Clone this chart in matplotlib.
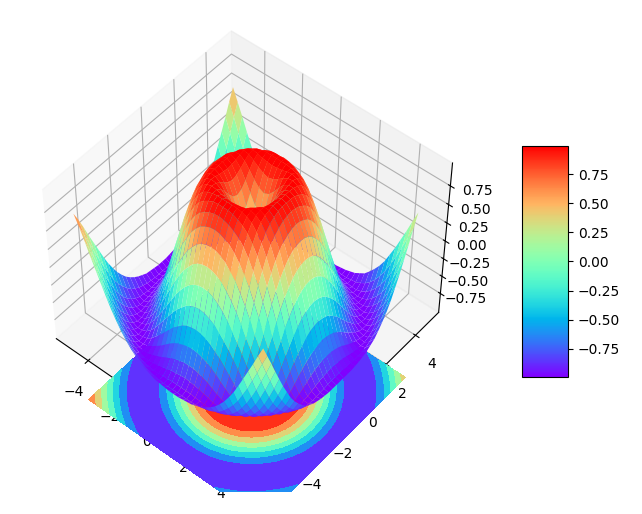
import matplotlib
matplotlib.use("Agg")
import matplotlib.pyplot as plt
import numpy as np

# surface height by grid steps from the centre: row = larger offset, column = smaller offset
height_rows = [
    [0.00],
    [0.25, 0.35],
    [0.48, 0.53, 0.65],
    [0.68, 0.71, 0.78, 0.87],
    [0.84, 0.86, 0.90, 0.95, 0.99],
    [0.95, 0.96, 0.97, 0.99, 1.00, 0.98],
    [1.00, 1.00, 1.00, 0.99, 0.97, 0.93, 0.85],
    [0.98, 0.98, 0.97, 0.94, 0.90, 0.84, 0.74, 0.62],
    [0.91, 0.90, 0.88, 0.84, 0.79, 0.71, 0.60, 0.46, 0.31],
    [0.78, 0.77, 0.74, 0.70, 0.63, 0.54, 0.42, 0.29, 0.13, -0.04],
    [0.60, 0.59, 0.56, 0.51, 0.43, 0.34, 0.22, 0.09, -0.06, -0.22, -0.38],
    [0.38, 0.37, 0.34, 0.29, 0.21, 0.12, 0.01, -0.12, -0.26, -0.40, -0.54, -0.68],
    [0.14, 0.13, 0.10, 0.05, -0.02, -0.11, -0.21, -0.33, -0.45, -0.57, -0.69, -0.80, -0.89],
    [-0.11, -0.12, -0.15, -0.19, -0.26, -0.33, -0.42, -0.52, -0.62, -0.72, -0.82, -0.90, -0.96, -0.99],
    [-0.35, -0.36, -0.38, -0.42, -0.48, -0.54, -0.62, -0.70, -0.78, -0.85, -0.92, -0.97, -0.99, -1.00, -0.97],
    [-0.57, -0.58, -0.60, -0.63, -0.67, -0.72, -0.78, -0.84, -0.89, -0.94, -0.98, -1.00, -1.00, -0.97, -0.91, -0.83],
    [-0.76, -0.76, -0.78, -0.80, -0.83, -0.87, -0.91, -0.94, -0.97, -0.99, -1.00, -0.99, -0.96, -0.90, -0.82, -0.72, -0.59],
    [-0.89, -0.90, -0.91, -0.92, -0.94, -0.96, -0.98, -0.99, -1.00, -1.00, -0.98, -0.94, -0.88, -0.80, -0.70, -0.58, -0.43, -0.27],
    [-0.98, -0.98, -0.98, -0.99, -0.99, -1.00, -1.00, -0.99, -0.98, -0.95, -0.91, -0.85, -0.77, -0.67, -0.55, -0.41, -0.26, -0.09, 0.08],
    [-1.00, -1.00, -1.00, -1.00, -0.99, -0.98, -0.96, -0.94, -0.90, -0.86, -0.79, -0.71, -0.62, -0.51, -0.37, -0.23, -0.07, 0.09, 0.26, 0.42],
    [-0.96, -0.96, -0.95, -0.94, -0.93, -0.90, -0.87, -0.83, -0.78, -0.72, -0.64, -0.55, -0.44, -0.32, -0.18, -0.03, 0.12, 0.27, 0.43, 0.58, 0.71],
]
grid_steps = list(range(-20, 20))
grid_spacing = 0.25
floor_level = -2
xy_ticks = [-4, -2, 0, 2, 4]
z_ticks = [-0.75, -0.5, -0.25, 0, 0.25, 0.5, 0.75]

x = np.array(grid_steps) * grid_spacing
X, Y = np.meshgrid(x, x)
Z = np.array([[height_rows[max(abs(a), abs(b))][min(abs(a), abs(b))] for a in grid_steps] for b in grid_steps])

fig = plt.figure(figsize=(6.42, 5.14), dpi=100)
ax = fig.add_axes([0.007, 0.043, 0.74, 0.903], projection="3d")
surf = ax.plot_surface(X, Y, Z, rstride=1, cstride=1, cmap="rainbow", linewidth=0, antialiased=True)
ax.contourf(X, Y, Z, zdir="z", offset=floor_level, cmap="rainbow")
ax.set_xlim(-5.8, 5.6)
ax.set_ylim(-5.8, 5.6)
ax.set_zlim(-1.03, 1.05)
ax.set_xticks(xy_ticks)
ax.set_yticks(xy_ticks)
ax.set_zticks(z_ticks)
ax.tick_params(axis="x", pad=6)
ax.tick_params(axis="y", pad=6)
ax.set_box_aspect((4, 4, 3.3), zoom=0.962)
ax.view_init(elev=50, azim=-50)

cax = fig.add_axes([522 / 642, 1 - 377 / 514, 46 / 642, 231 / 514])
fig.colorbar(surf, cax=cax)

fig.savefig("out.png", dpi=100)
